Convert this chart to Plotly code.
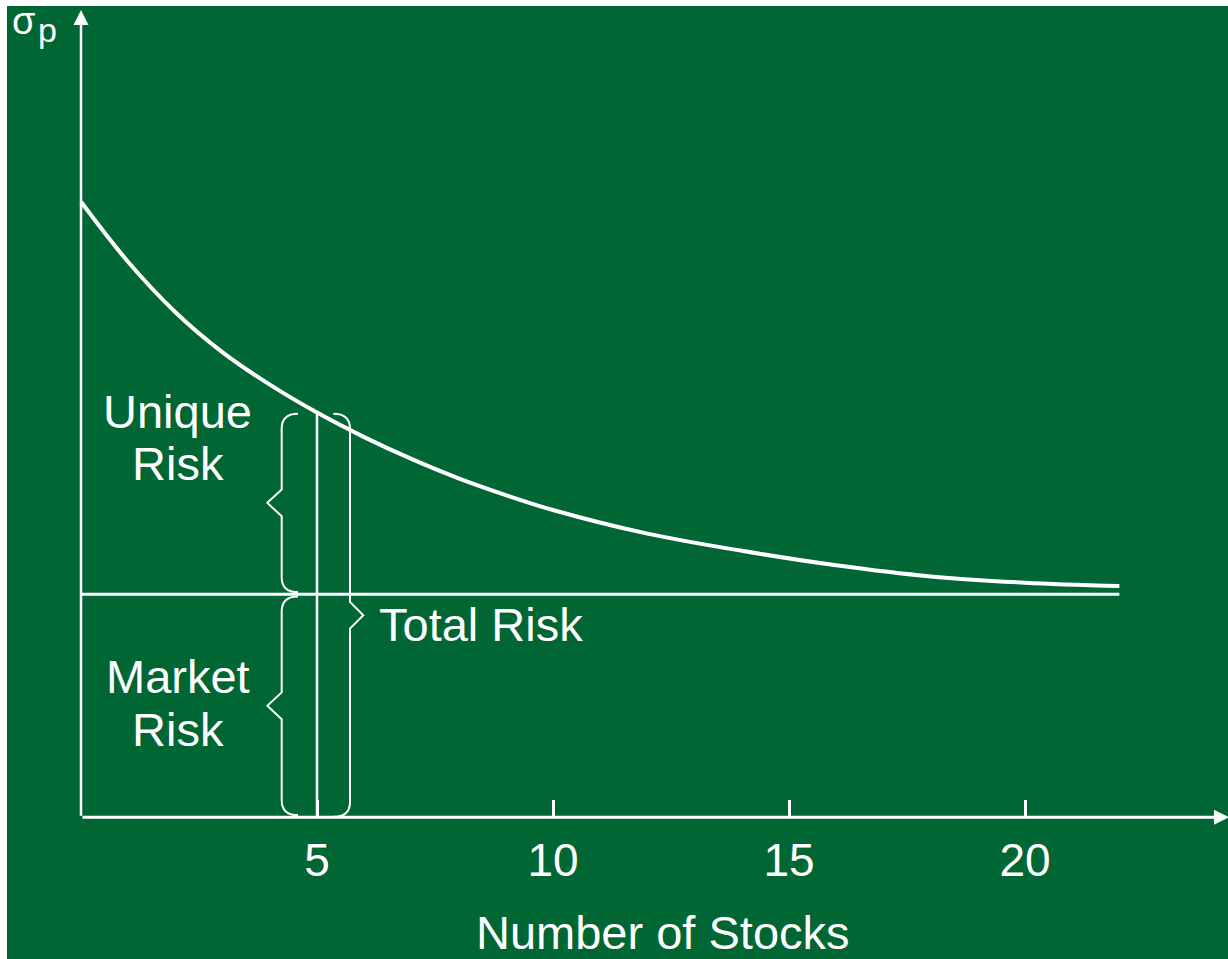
import plotly.graph_objects as go

# ---- data ----
n_stocks = [0, 1, 2, 3, 4, 5, 6, 7, 8, 9, 10, 12, 14, 16, 18, 20, 22]
total_risk = [27.6, 24.9, 22.65, 20.85, 19.4, 18.15, 17.05, 16.07, 15.2, 14.45,
              13.78, 12.72, 11.95, 11.3, 10.8, 10.52, 10.37]
market_risk = 10.0
highlight_n = 5
tick_vals = [5, 10, 15, 20]
tick_text = ["5", "10", "15", "20"]

# ---- geometry helpers (pixel scale of the reference) ----
W, H = 1228, 959
X0_PX, PX_PER_X = 81.0, 47.2
Y0_PX, PX_PER_Y = 817.3, 22.3
x_range = [-X0_PX / PX_PER_X, (W - X0_PX) / PX_PER_X]
y_range = [-(H - Y0_PX) / PX_PER_Y, Y0_PX / PX_PER_Y]

FONT = "Arial, Liberation Sans, sans-serif"
WHITE = "white"
GREEN = "#006633"

fig = go.Figure()

# total risk curve
fig.add_trace(go.Scatter(x=n_stocks, y=total_risk, mode="lines",
                         line=dict(color=WHITE, width=4, shape="spline", smoothing=1.0),
                         hoverinfo="skip"))
# market risk level
fig.add_trace(go.Scatter(x=[n_stocks[0], n_stocks[-1]], y=[market_risk, market_risk],
                         mode="lines", line=dict(color=WHITE, width=3), hoverinfo="skip"))
# vertical line at highlighted number of stocks
h_idx = n_stocks.index(highlight_n)
top_h = total_risk[h_idx]
fig.add_trace(go.Scatter(x=[highlight_n, highlight_n], y=[0, top_h], mode="lines",
                         line=dict(color=WHITE, width=2.5), hoverinfo="skip"))


def brace(xb, xe, xt, yt, yb, r=0.67, k=0.6):
    ym = (yt + yb) / 2
    return (f"M {xe},{yt} Q {xb},{yt} {xb},{yt - r} L {xb},{ym + k} "
            f"L {xt},{ym} L {xb},{ym - k} L {xb},{yb + r} Q {xb},{yb} {xe},{yb}")


gap = 0.1
brace_top = top_h - 0.05
shapes = [
    # unique risk brace
    dict(type="path", xref="x", yref="y",
         path=brace(highlight_n - 0.748, highlight_n - 0.403, highlight_n - 1.053,
                    brace_top, market_risk + gap),
         line=dict(color=WHITE, width=2)),
    # market risk brace
    dict(type="path", xref="x", yref="y",
         path=brace(highlight_n - 0.748, highlight_n - 0.403, highlight_n - 1.053,
                    market_risk - gap, gap),
         line=dict(color=WHITE, width=2)),
    # total risk brace
    dict(type="path", xref="x", yref="y",
         path=brace(highlight_n + 0.699, highlight_n + 0.345, highlight_n + 0.981,
                    brace_top, 0.02),
         line=dict(color=WHITE, width=2)),
    # white page edges
    dict(type="rect", xref="paper", yref="paper", x0=0, x1=7 / W, y0=0, y1=1,
         fillcolor=WHITE, line=dict(width=0), layer="above"),
    dict(type="rect", xref="paper", yref="paper", x0=0, x1=1, y0=1 - 6 / H, y1=1,
         fillcolor=WHITE, line=dict(width=0), layer="above"),
]

annotations = [
    # axes with arrow heads
    dict(x=x_range[1] + 0.02, y=0, ax=0, ay=0, xref="x", yref="y", axref="x", ayref="y",
         text="", showarrow=True, arrowhead=2, arrowsize=1.0, arrowwidth=3,
         arrowcolor=WHITE),
    dict(x=0, y=(Y0_PX - 10) / PX_PER_Y, ax=0, ay=0, xref="x", yref="y", axref="x",
         ayref="y", text="", showarrow=True, arrowhead=2, arrowsize=1.2, arrowwidth=2.5,
         arrowcolor=WHITE),
]


def label(text, x, y, size=47, xanchor="center"):
    return dict(x=x, y=y, xref="x", yref="y", text=text, showarrow=False,
                xanchor=xanchor, yanchor="middle",
                font=dict(family=FONT, size=size, color=WHITE))


annotations += [
    label("Unique", 2.045, 18.18),
    label("Risk", 2.045, 15.86),
    label("Market", 2.045, 6.31),
    label("Risk", 2.045, 3.94),
    label("Total Risk", 6.27, 8.66, xanchor="left"),
    label("Number of Stocks", 12.32, -5.16),
    label("σ", -1.218, (Y0_PX - 21) / PX_PER_Y, size=38),
    label("p", -0.72, (Y0_PX - 30) / PX_PER_Y, size=34),
]

fig.update_layout(
    width=W, height=H,
    margin=dict(l=0, r=0, t=0, b=0),
    paper_bgcolor=GREEN, plot_bgcolor=GREEN,
    showlegend=False, hovermode=False,
    shapes=shapes, annotations=annotations,
    xaxis=dict(range=x_range, anchor="free", position=(H - Y0_PX) / H,
               showgrid=False, zeroline=False, showline=False,
               ticks="inside", ticklen=17, tickwidth=3, tickcolor=WHITE,
               tickvals=tick_vals, ticktext=tick_text, ticklabelstandoff=12,
               tickfont=dict(family=FONT, size=46, color=WHITE)),
    yaxis=dict(range=y_range, visible=False),
)

fig.write_html("out.html", config={"displayModeBar": False, "staticPlot": True},
               post_script="document.body.style.margin='0';document.body.style.overflow='hidden';")
